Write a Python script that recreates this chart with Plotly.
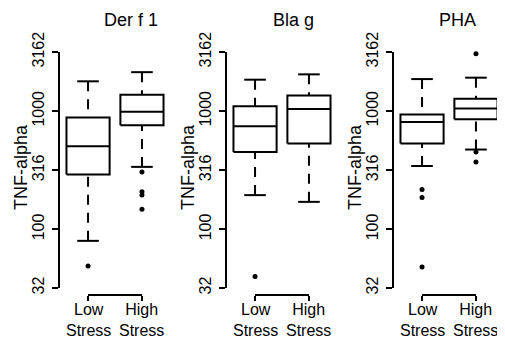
import numpy as np
import plotly.graph_objects as go

# ---- data ----
panel_titles = ["Der f 1", "Bla g", "PHA"]
group_labels = ["Low<br>Stress", "High<br>Stress"]
group_pos = [1, 2]
y_ticks = [32, 100, 316, 1000, 3162]
y_ticktext = ["32", "100", "316", "1000", "3162"]
y_title = "TNF-alpha"

# stats: [lower whisker, Q1, median, Q3, upper whisker]
derf1_low = [80, 291, 506, 883, 1790]
derf1_high = [338, 760, 990, 1380, 2140]
derf1_low_out = [49]
derf1_high_out = [306, 208, 195, 148]

blag_low = [195, 452, 745, 1099, 1848]
blag_high = [171, 532, 1044, 1361, 2050]
blag_low_out = [40]
blag_high_out = []

pha_low = [344, 532, 811, 936, 1870]
pha_high = [474, 855, 1052, 1277, 1922]
pha_low_out = [218, 186, 48]
pha_high_out = [3062, 452, 372]

panels = [
    (derf1_low, derf1_high, derf1_low_out, derf1_high_out),
    (blag_low, blag_high, blag_low_out, blag_high_out),
    (pha_low, pha_high, pha_low_out, pha_high_out),
]

W, H = 505, 338
OFF = 8  # page body margin offset of the plot div
x_domains = [(60, 170), (227, 337), (394, 504)]
y_top_px, y_bot_px = 52, 288
bracket_px = 295
xlabel_px = 320
title_x_px = [131, 293, 457]
title_y_px = 20
ytitle_dx = 39
ytitle_y_px = 167

FONT = "Liberation Sans, Arial, sans-serif"
LW = 2
HW, CW = 0.4, 0.2


def px(v):
    return (v - OFF) / W


def py(v):
    return 1 - (v - OFF) / H


fig = go.Figure()


def add_box(xpos, stats, outs, xa, ya):
    lo, q1, med, q3, hi = stats
    common = dict(xaxis=xa, yaxis=ya, showlegend=False, hoverinfo="skip", cliponaxis=False)
    fig.add_trace(go.Scatter(
        x=[xpos - HW, xpos + HW, xpos + HW, xpos - HW, xpos - HW],
        y=[q1, q1, q3, q3, q1], mode="lines",
        line=dict(color="black", width=LW), **common))
    fig.add_trace(go.Scatter(
        x=[xpos - HW, xpos + HW], y=[med, med], mode="lines",
        line=dict(color="black", width=LW), **common))
    for end, edge in ((lo, q1), (hi, q3)):
        fig.add_trace(go.Scatter(
            x=[xpos, xpos], y=[end, edge], mode="lines",
            line=dict(color="black", width=LW, dash="10px,8px"), **common))
        fig.add_trace(go.Scatter(
            x=[xpos - CW, xpos + CW], y=[end, end], mode="lines",
            line=dict(color="black", width=LW), **common))
    if outs:
        fig.add_trace(go.Scatter(
            x=[xpos] * len(outs), y=outs, mode="markers",
            marker=dict(color="black", size=5), **common))


ydom = [py(y_bot_px), py(y_top_px)]
layout = dict(
    width=W, height=H,
    margin=dict(l=0, r=0, t=0, b=0, autoexpand=False),
    paper_bgcolor="white", plot_bgcolor="white",
    font=dict(family=FONT, color="black"),
    shapes=[], annotations=[],
)

for i, (low, high, low_out, high_out) in enumerate(panels):
    n = "" if i == 0 else str(i + 1)
    xa, ya = "x" + n, "y" + n
    add_box(group_pos[0], low, low_out, xa, ya)
    add_box(group_pos[1], high, high_out, xa, ya)
    d0, d1 = x_domains[i]
    layout["xaxis" + n] = dict(
        domain=[px(d0), px(d1)], range=[0.48, 2.52], anchor="free",
        position=py(bracket_px), automargin=False,
        tickvals=group_pos, showticklabels=False,
        ticks="outside", ticklen=5, tickwidth=LW, tickcolor="black",
        showline=False, showgrid=False, zeroline=False,
    )
    layout["yaxis" + n] = dict(
        domain=ydom, anchor=xa, type="log", automargin=False,
        range=[np.log10(32) - 0.001, np.log10(3162) + 0.001],
        tickvals=y_ticks, ticktext=y_ticktext, tickangle=-90,
        ticks="outside", ticklen=6, tickwidth=LW, tickcolor="black",
        showline=True, linewidth=LW, linecolor="black",
        showgrid=False, zeroline=False,
        tickfont=dict(size=16, family=FONT, color="black"),
        ticklabelstandoff=2,
    )
    layout["shapes"].append(dict(
        type="line", xref=xa, yref="paper",
        x0=group_pos[0], x1=group_pos[1],
        y0=py(bracket_px), y1=py(bracket_px),
        line=dict(color="black", width=LW)))
    for gp, gl in zip(group_pos, group_labels):
        layout["annotations"].append(dict(
            text=gl, xref=xa, yref="paper", x=gp, y=py(xlabel_px),
            xanchor="center", yanchor="middle", showarrow=False,
            font=dict(size=16, family=FONT, color="black")))
    layout["annotations"].append(dict(
        text=panel_titles[i], xref="paper", yref="paper",
        x=px(title_x_px[i]), y=py(title_y_px),
        xanchor="center", yanchor="middle", showarrow=False,
        font=dict(size=18, family=FONT, color="black")))
    layout["annotations"].append(dict(
        text=y_title, xref="paper", yref="paper", textangle=-90,
        x=px(d0 - ytitle_dx), y=py(ytitle_y_px),
        xanchor="center", yanchor="middle", showarrow=False,
        font=dict(size=18, family=FONT, color="black")))

fig.update_layout(**layout)
fig.write_html("out.html")
